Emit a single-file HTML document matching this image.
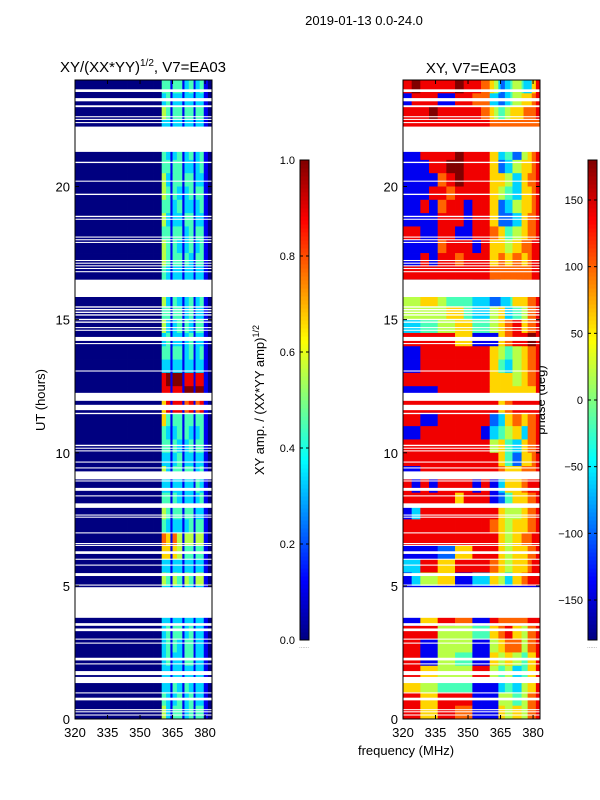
<!DOCTYPE html>
<html><head><meta charset="utf-8">
<style>
html,body{margin:0;padding:0;background:#fff;}
svg{display:block;font-family:"Liberation Sans",sans-serif;}
</style></head>
<body>
<svg id="fig" width="600" height="800" viewBox="0 0 600 800">
<text x="364" y="25" font-size="13" text-anchor="middle">2019-01-13 0.0-24.0</text>
<text x="143" y="72" font-size="15" text-anchor="middle">XY/(XX*YY)<tspan font-size="10" dy="-6">1/2</tspan><tspan dy="6">, V7=EA03</tspan></text>
<text x="471" y="73" font-size="15" text-anchor="middle">XY, V7=EA03</text>
<text x="45" y="400" font-size="13" text-anchor="middle" transform="rotate(-90 45 400)">UT (hours)</text>
<text x="406" y="755" font-size="13" text-anchor="middle">frequency (MHz)</text>
<text x="264" y="400" font-size="13" text-anchor="middle" transform="rotate(-90 264 400)">XY amp. / (XX*YY amp)<tspan font-size="9" dy="-5">1/2</tspan></text>
<text x="545" y="400" font-size="13" text-anchor="middle" transform="rotate(-90 545 400)">phase (deg)</text>
<g id="left"></g>
<g id="right"></g>
<g id="cb"></g>
</svg>
<script>
// frequency bin edges (MHz)
const freqEdges=[320,324,328,332,336,340,344,348,352,356,360,362,364,365,367,369.5,370.5,372.5,374.7,375.6,377.5,379.4,381.3,383.2];
// flagged (blank) UT intervals in hours
const gaps=[[23.55,23.65],[23.2,23.32],[22.98,23.05],[22.6,22.64],[22.5,22.54],[22.38,22.42],[21.3,22.25],[20.88,20.93],[20.18,20.22],[19.68,19.73],[18.85,18.9],[18.75,18.79],[18.08,18.12],[17.98,18.02],[17.88,17.92],[17.2,17.24],[17.1,17.14],[17.0,17.04],[16.9,16.94],[16.78,16.82],[15.85,16.5],[15.45,15.5],[15.35,15.4],[15.25,15.3],[15.15,15.2],[14.98,15.03],[14.88,14.93],[14.68,14.72],[14.58,14.62],[14.2,14.35],[14.08,14.12],[13.05,13.09],[11.95,12.25],[11.6,11.8],[11.45,11.5],[10.25,10.3],[10.15,10.19],[10.05,10.09],[9.63,9.67],[9.41,9.45],[9.0,9.3],[8.92,8.96],[8.57,8.68],[8.36,8.4],[7.93,8.1],[7.64,7.68],[7.56,7.6],[6.97,7.01],[6.57,6.61],[6.5,6.54],[6.2,6.3],[5.98,6.02],[5.76,5.8],[5.37,5.48],[5.01,5.05],[3.8,4.95],[3.5,3.6],[3.3,3.4],[2.98,3.02],[2.83,2.87],[2.2,2.3],[2.05,2.09],[1.65,1.8],[1.35,1.58],[0.96,1.0],[0.7,0.8],[0.33,0.37],[0.25,0.29],[0.13,0.17]];
const rowHours=0.5;
// amplitude rows, top (23.5-24h) to bottom (0-0.5h); digit d -> d/9
const ampRows=["0000000000"+"4414413413410","0000000000"+"3413313313310","0000000000"+"5414414414410","0000000000"+"3313313313310","0000000000"+"3313313313310","0000000000"+"4313413413410","0000000000"+"4414413313410","0000000000"+"5314414413310","0000000000"+"5414313414410","0000000000"+"4413413313410","0000000000"+"5313314413310","0000000000"+"4414413414410","0000000000"+"5414313413410","0000000000"+"5414414314410","0000000000"+"4313313313310","0000000000"+"3313313313310","0000000000"+"5314313413410","0000000000"+"4414413413310","0000000000"+"5313414314410","0000000000"+"3413313413310","0000000000"+"4414413413410","0000000000"+"3313313313310","0000000000"+"8919918818810","0000000000"+"8818819919910","0000000000"+"6818817817810","0000000000"+"6414414414410","0000000000"+"4313414313410","0000000000"+"4414313414410","0000000000"+"3313413313310","0000000000"+"5314414413410","0000000000"+"3313313314310","0000000000"+"4414313313410","0000000000"+"5414414413310","0000000000"+"4313313414410","0000000000"+"7617515515510","0000000000"+"6616514414410","0000000000"+"3313313313310","0000000000"+"5415415415510","0000000000"+"3313313313310","0000000000"+"3313313313310","0000000000"+"3313313313310","0000000000"+"3414413413310","0000000000"+"3414314413310","0000000000"+"3413314413310","0000000000"+"3313313313310","0000000000"+"3314314313310","0000000000"+"4313413413310","0000000000"+"5314413414410"];
// phase rows, same layout; digit d -> -180 + 40*d deg
const phaseRows=["8988889887"+"6532345543368","1888118877"+"3322345566678","8889888887"+"6544566667778","8888888888"+"7777777777777","8888888888"+"7777777777777","1188889888"+"6633442255678","1118899888"+"6622335566678","1111789888"+"6666553366778","1118878888"+"6655443366678","1181788188"+"6622335566678","1111888188"+"6622223366778","8811881188"+"7766445566778","1111788818"+"6666556677788","1181887888"+"6677667766788","8888888888"+"7777777777788","3333433322"+"1225566788889","5566544433"+"2223346666778","5555566433"+"5566334455778","3344556644"+"5566778866778","8888886611"+"1166778888998","1188888888"+"6655445566778","1188888888"+"6644335566778","8888888888"+"6666665566778","1111888888"+"6666666666668","8888888888"+"8866778888888","8811888888"+"2233667766778","1188888881"+"3344556633778","8888888888"+"5566443366778","8888888888"+"8866442266678","1188888888"+"8877666677778","8181888818"+"1133666677888","8888886888"+"1122446666778","1388888888"+"8866555566778","8888888888"+"7766556666778","8888888888"+"8866556677788","1111226688"+"8866556666778","3388668888"+"7766556666788","1355661133"+"6655336677888","1111111111"+"1111111111111","1111111111"+"1111111111111","1166887711"+"8877777777888","8888555544"+"6677886655778","8811555511"+"5566777755778","8811554411"+"6655665544668","8866555588"+"5544553344668","6655444411"+"1133443355668","8866888811"+"1155554455778","8866887711"+"1166556655778"];
const xTicks=[320,335,350,365,380];
const yTicks=[0,5,10,15,20];
const ampTicks=[0.0,0.2,0.4,0.6,0.8,1.0];
const phaseTicks=[-150,-100,-50,0,50,100,150];

const NS="http://www.w3.org/2000/svg";
const Y0=719,Y1=80,H0=0,H1=24;
const yS=h=>Y0-(h-H0)*(Y0-Y1)/(H1-H0);
function jet(v){v=Math.max(0,Math.min(1,v));
 const r=Math.max(0,Math.min(1,1.5-Math.abs(4*v-3))),g=Math.max(0,Math.min(1,1.5-Math.abs(4*v-2))),b=Math.max(0,Math.min(1,1.5-Math.abs(4*v-1)));
 return `rgb(${Math.round(r*255)},${Math.round(g*255)},${Math.round(b*255)})`;}
function mk(tag,attrs,parent){const e=document.createElementNS(NS,tag);for(const k in attrs)e.setAttribute(k,attrs[k]);parent.appendChild(e);return e;}

function panel(gid,x0,x1,rows,valFn){
 const g=document.getElementById(gid);
 const xS=f=>x0+(f-320)*(x1-x0)/(383.2-320);
 const n=rows.length;
 rows.forEach((row,i)=>{
  const hTop=(n-i)*rowHours,hBot=hTop-rowHours;
  for(let j=0;j<freqEdges.length-1;j++){
   const d=parseInt(row[j],10);
   const r=mk('rect',{x:xS(freqEdges[j]).toFixed(2),y:yS(hTop).toFixed(2),width:(xS(freqEdges[j+1])-xS(freqEdges[j])+0.4).toFixed(2),height:(yS(hBot)-yS(hTop)+0.4).toFixed(2),fill:jet(valFn(d))},g);
   
   
  }
 });
 gaps.forEach(gp=>{
  const r=mk('rect',{x:x0,y:yS(gp[1]),width:x1-x0,height:yS(gp[0])-yS(gp[1]),fill:'#fff'},g);
  
  
 });
 const fr=mk('rect',{x:x0,y:Y1,width:x1-x0,height:Y0-Y1,fill:'none',stroke:'#000','stroke-width':1},g);
 
 
 xTicks.forEach(t=>{const x=xS(t);
  mk('line',{x1:x,x2:x,y1:Y0,y2:Y0-4,stroke:'#000'},g);mk('line',{x1:x,x2:x,y1:Y1,y2:Y1+4,stroke:'#000'},g);
  const tx=mk('text',{x:x,y:Y0+18,'font-size':13,'text-anchor':'middle'},g);tx.textContent=t;
  
  });
 yTicks.forEach(t=>{const y=yS(t);
  mk('line',{x1:x0,x2:x0+4,y1:y,y2:y,stroke:'#000'},g);mk('line',{x1:x1,x2:x1-4,y1:y,y2:y,stroke:'#000'},g);
  const tx=mk('text',{x:x0-5,y:y+5,'font-size':13,'text-anchor':'end'},g);tx.textContent=t;
  
  });
}
panel('left',75,212,ampRows,d=>d/9);
panel('right',403,540,phaseRows,d=>(40*d)/360);

function colorbar(x,ticks,vmin,vmax,fmt,name){
 const g=document.getElementById('cb');
 const top=160,bot=640,w=9;
 for(let k=0;k<120;k++){const v=k/120;
  mk('rect',{x:x,y:bot-(k+1)*(bot-top)/120,width:w,height:(bot-top)/120+0.5,fill:jet(v+0.5/120)},g);}
 const fr=mk('rect',{x:x,y:top,width:w,height:bot-top,fill:'none',stroke:'#000'},g);
 
 
 ticks.forEach(t=>{const y=bot-(t-vmin)/(vmax-vmin)*(bot-top);
  mk('line',{x1:x,x2:x+3,y1:y,y2:y,stroke:'#000'},g);mk('line',{x1:x+w,x2:x+w-3,y1:y,y2:y,stroke:'#000'},g);
  const tx=mk('text',{x:x-5,y:y+4,'font-size':11,'text-anchor':'end'},g);tx.textContent=fmt(t);
  
  });
 const dots=mk('text',{x:x+4,y:bot+8,'font-size':6,'text-anchor':'middle',fill:'#888'},g);dots.textContent='......';
}
colorbar(300,ampTicks,0,1,t=>t.toFixed(1),'amplitude-colorbar');
colorbar(588,phaseTicks,-180,180,t=>(t<0?'\u2212'+(-t):String(t)),'phase-colorbar');
</script>
</body></html>
